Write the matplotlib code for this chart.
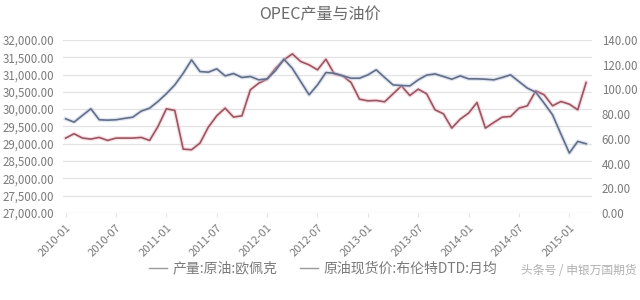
import matplotlib
matplotlib.use('Agg')
import matplotlib.pyplot as plt
from matplotlib.lines import Line2D

plt.rcParams['font.family'] = ['Noto Sans CJK SC', 'DejaVu Sans']

# monthly data 2010-01 .. 2015-03
months = ['%d-%02d' % (2010 + k // 12, k % 12 + 1) for k in range(63)]

# OPEC crude output (left axis)
opecOutput = [29164, 29289, 29164, 29135, 29183, 29096, 29164, 29164, 29164, 29183, 29096, 29500, 30010,
              29962, 28846, 28827, 29019, 29481, 29808, 30029, 29769, 29808, 30558, 30750, 30865,
              31180, 31423, 31596, 31375, 31279, 31135, 31442, 31019, 30962, 30769, 30289, 30240, 30250,
              30212, 30442, 30673, 30394, 30577, 30442, 29981, 29865, 29452, 29712, 29885, 30192,
              29452, 29615, 29769, 29788, 30029, 30096, 30529, 30413, 30096, 30221, 30144, 29981, 30769]

# Brent DTD monthly average (right axis)
brentPrice = [76.2, 73.5, 78.9, 84.3, 75.4, 75.1, 75.4, 76.5, 77.5, 82.4, 84.8, 90.2, 96.5,
              103.6, 113.0, 123.8, 114.4, 113.9, 116.6, 110.9, 112.8, 109.6, 110.4, 107.7, 108.5,
              115.2, 124.4, 117.0, 106.3, 95.6, 103.6, 113.6, 113.0, 111.0, 109.0, 109.0, 111.7, 115.8,
              109.6, 103.6, 103.1, 102.8, 107.7, 111.5, 112.5, 110.4, 108.2, 110.9, 108.5, 108.5,
              108.2, 107.7, 109.6, 111.7, 106.3, 101.0, 97.7, 88.8, 79.4, 63.8, 48.5, 57.9, 56.0]

seriesNames = ['产量:原油:欧佩克', '原油现货价:布伦特DTD:月均']
leftTicks = list(range(27000, 32001, 500))
rightTicks = list(range(0, 141, 20))
xTickPos = list(range(0, 63, 6))

textColor = '#7a7a7a'
gridColor = '#e3e3e3'
redColor = '#985663'
blueColor = '#646e86'

fig = plt.figure(figsize=(6.4, 3.0), dpi=100)
ax = fig.add_axes([0.098, 0.29, 0.827, 0.577])
ax2 = ax.twinx()

x = list(range(len(months)))
ax.plot(x, opecOutput, color='#f2b0bb', lw=3.0, alpha=0.4, zorder=2)
ax.plot(x, opecOutput, color=redColor, lw=1.2, zorder=3)
ax2.plot(x, brentPrice, color='#b0c2e2', lw=3.0, alpha=0.4, zorder=2)
ax2.plot(x, brentPrice, color=blueColor, lw=1.2, zorder=3)

ax.set_ylim(27000, 32000)
ax2.set_ylim(0, 140)
ax.set_xlim(-0.35, 62.7)
ax.set_yticks(leftTicks)
ax.set_yticklabels(['{:,.2f}'.format(v) for v in leftTicks])
ax2.set_yticks(rightTicks)
ax2.set_yticklabels(['{:.2f}'.format(v) for v in rightTicks])
ax.set_xticks(xTickPos)
ax.set_xticklabels([months[i] for i in xTickPos], rotation=45, ha='right',
                   va='top', rotation_mode='anchor')

ax.grid(axis='y', color=gridColor, lw=0.9)
ax.set_axisbelow(True)
for a in (ax, ax2):
    for s in a.spines.values():
        s.set_visible(False)
ax.tick_params(axis='y', length=0, pad=6, labelsize=8.3, labelcolor=textColor)
ax2.tick_params(axis='y', length=0, pad=7, labelsize=8.3, labelcolor=textColor)
ax.tick_params(axis='x', length=3, color=gridColor, pad=4, labelsize=8, labelcolor=textColor)

fig.text(0.5, 0.952, 'OPEC产量与油价', ha='center', va='center', fontsize=11.5, color='#6a6a6a')

handles = [Line2D([], [], color='#9a9a9a', lw=1.0), Line2D([], [], color='#9a9a9a', lw=1.0)]
fig.legend(handles, seriesNames, loc='center', bbox_to_anchor=(0.505, 0.105), ncol=2,
           frameon=False, fontsize=10, labelcolor=textColor, handlelength=1.3,
           handletextpad=0.4, columnspacing=1.6)

fig.text(0.905, 0.1, '头条号 / 申银万国期货', ha='center', va='center', fontsize=8.5, color='#b0b0b0')

fig.savefig('out.png', dpi=100)
